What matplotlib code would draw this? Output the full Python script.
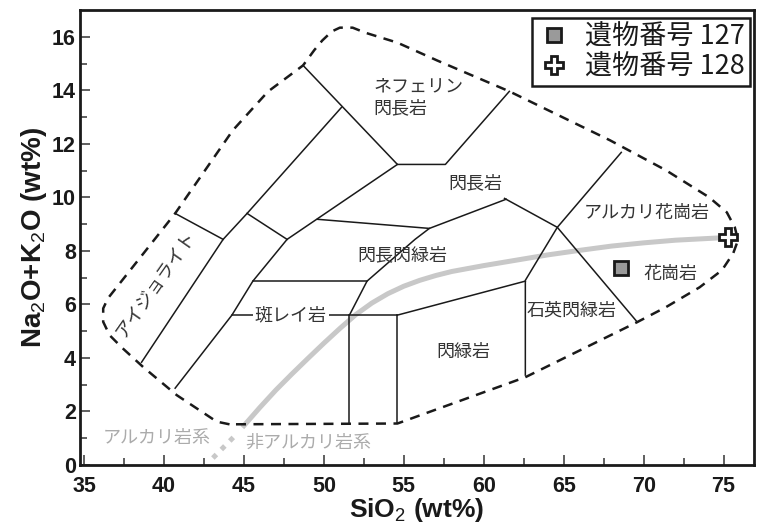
import matplotlib
matplotlib.use('Agg')
import matplotlib.pyplot as plt
from matplotlib.lines import Line2D

# ── fonts ──────────────────────────────────────────────────────────────────
AX_FONT = 'Liberation Sans'
JP = ['Noto Sans CJK JP', 'DejaVu Sans']
plt.rcParams['mathtext.fontset'] = 'custom'
plt.rcParams['mathtext.rm'] = AX_FONT
plt.rcParams['mathtext.bf'] = AX_FONT + ':bold'

INK = '#1a1a1a'
TXT = '#333333'
CURVE = '#c8c8c8'

# ── data: field boundaries (SiO2, Na2O+K2O) ───────────────────────────────
envelope_x = [44.1, 43.3, 40.8, 38.7, 37.4, 36.6, 36.2, 36.2, 36.5, 40.7, 44.3, 46.5, 48.7,
              49.4, 49.9, 50.5, 51.0, 51.8, 52.6, 54.6, 57.1, 61.6, 67.9, 71.4, 74.1,
              75.2, 75.7, 75.9, 75.6, 74.9, 73.5, 71.4, 69.6, 62.6, 54.6, 44.1]
envelope_y = [1.52, 1.62, 2.61, 3.66, 4.37, 4.85, 5.35, 5.85, 6.23, 9.40, 12.50, 13.95, 14.93,
              15.50, 15.86, 16.20, 16.34, 16.34, 16.15, 15.78, 15.11, 13.96, 12.13, 11.01, 10.00,
              9.44, 8.88, 8.40, 7.91, 7.28, 6.64, 5.90, 5.34, 3.28, 1.55, 1.52]

boundaries = [
    ([38.6, 43.7, 45.2, 51.1], [3.84, 8.43, 9.40, 13.36]),      # ijolite / foid gabbro
    ([40.7, 43.7], [9.40, 8.43]),
    ([45.2, 47.7], [9.40, 8.43]),
    ([40.7, 44.25, 45.56, 47.7, 54.6], [2.87, 5.60, 6.87, 8.43, 11.23]),
    ([48.7, 54.6, 57.6, 61.6], [14.93, 11.23, 11.23, 13.96]),
    ([49.6, 56.6, 61.4], [9.18, 8.84, 9.93]),
    ([61.3, 64.6, 69.6], [9.96, 8.88, 5.34]),
    ([68.6, 64.6, 62.6, 62.6], [11.68, 8.88, 6.90, 3.36]),
    ([54.6, 62.6], [5.60, 6.87]),
    ([54.6, 54.6], [5.60, 1.57]),
    ([51.6, 51.6], [5.60, 1.57]),
    ([44.25, 54.6], [5.60, 5.60]),                               # gabbro line behind label
    ([51.6, 52.7, 55.7, 56.6], [5.60, 6.87, 8.43, 8.84]),
    ([45.56, 52.7], [6.87, 6.87]),
]

# alkaline / subalkaline divide
divide_x = [44.9, 46.0, 47.0, 48.0, 49.0, 50.0, 51.0, 52.0, 53.0, 54.0, 55.0, 56.0,
            57.0, 58.0, 60.0, 62.0, 64.0, 66.0, 68.0, 70.0, 72.0, 75.2]
divide_y = [1.40, 2.15, 2.80, 3.40, 3.98, 4.55, 5.10, 5.62, 6.05, 6.40, 6.68, 6.90,
            7.08, 7.23, 7.45, 7.65, 7.85, 8.02, 8.18, 8.30, 8.40, 8.50]
dotted_x = [43.06, 44.6]
dotted_y = [0.26, 1.19]

# samples
s127 = (68.6, 7.35)
s128 = (75.25, 8.51)
legend_labels = ['遺物番号 127', '遺物番号 128']

field_labels = [
    ('ネフェリン\n閃長岩', 53.1, 13.75, 'left', 0),
    ('閃長岩', 59.5, 10.52, 'center', 0),
    ('閃長閃緑岩', 54.9, 7.84, 'center', 0),
    ('閃緑岩', 58.75, 4.22, 'center', 0),
    ('石英閃緑岩', 65.5, 5.75, 'center', 0),
    ('アルカリ花崗岩', 70.2, 9.40, 'center', 0),
    ('花崗岩', 71.7, 7.13, 'center', 0),
    ('アイジョライト', 39.5, 6.75, 'center', 55),
]

# ── figure ─────────────────────────────────────────────────────────────────
fig = plt.figure(figsize=(7.57, 5.29), dpi=100)
ax = fig.add_axes([80/757, 64/529, 674/757, 455/529])

ax.plot(envelope_x, envelope_y, color=INK, lw=1.8, linestyle=(0, (4, 3)), zorder=3)
for bx, by in boundaries:
    ax.plot(bx, by, color=INK, lw=1.1, zorder=3)

ax.plot(divide_x, divide_y, color=CURVE, lw=3.6, solid_capstyle='butt', zorder=2)
ax.plot(dotted_x, dotted_y, color=CURVE, lw=3.6, linestyle=(0, (1, 1.4)), zorder=2)

for txt, x, y, ha, rot in field_labels:
    ax.text(x, y, txt, ha=ha, va='center', rotation=rot, fontsize=13,
            color=TXT, family=JP, linespacing=1.25, zorder=4)
ax.text(47.94, 5.60, '斑レイ岩', ha='center', va='center', fontsize=13, color=TXT,
        family=JP, zorder=4, bbox=dict(facecolor='white', edgecolor='none', pad=1.5))
ax.text(39.55, 1.0, 'アルカリ岩系', ha='center', va='center', fontsize=13,
        color='#ababab', family=JP, zorder=4)
ax.text(49.0, 0.82, '非アルカリ岩系', ha='center', va='center', fontsize=13,
        color='#ababab', family=JP, zorder=4)

ax.plot(*s127, marker='s', ms=9.5, mfc='#9a9a9a', mec=INK, mew=2, zorder=5)
ax.plot(*s128, marker='P', ms=13, mfc='white', mec=INK, mew=2, zorder=5)

# legend
handles = [Line2D([], [], ls='none', marker='s', ms=9.5, mfc='#9a9a9a', mec=INK, mew=2),
           Line2D([], [], ls='none', marker='P', ms=13, mfc='white', mec=INK, mew=2)]
leg = ax.legend(handles, legend_labels, loc='upper right',
                bbox_to_anchor=(0.994, 0.982), prop={'family': JP, 'size': 19.5},
                frameon=True, fancybox=False, framealpha=1, edgecolor=INK,
                handletextpad=0.55, handlelength=1.2, borderpad=0.2, labelspacing=0.12,
                borderaxespad=0)
leg.get_frame().set_linewidth(1.8)
for t in leg.get_texts():
    t.set_color(INK)

# axes styling
ax.set_xlim(34.75, 76.9)
ax.set_ylim(0, 17)
ax.set_xticks(range(35, 80, 5))
ax.set_xticks([37.5 + 5 * i for i in range(8)], minor=True)
ax.set_yticks(range(0, 18, 2))
ax.set_yticks(range(1, 17, 2), minor=True)
ax.tick_params(which='major', direction='in', length=7, width=1.2, color='#444',
               labelsize=15.5, pad=3)
ax.tick_params(which='minor', direction='in', length=5, width=1.2, color='#444')
ax.tick_params(axis='x', which='major', pad=8)
ax.tick_params(axis='y', which='both', left=True, right=False)
ax.tick_params(axis='x', which='both', bottom=True, top=False)
for lab in ax.get_xticklabels() + ax.get_yticklabels():
    lab.set_fontweight('bold')
    lab.set_family(AX_FONT)
    lab.set_color(INK)
for s in ax.spines.values():
    s.set_linewidth(2.0)
    s.set_color(INK)

ax.set_xlabel(r'SiO$_\mathrm{2}$ (wt%)', fontsize=19, fontweight='bold', family=AX_FONT,
              color=INK, labelpad=-1)
ax.set_ylabel(r'Na$_\mathrm{2}$O+K$_\mathrm{2}$O (wt%)', fontsize=20, fontweight='bold',
              family=AX_FONT, color=INK, labelpad=2)

fig.savefig('out.png', dpi=100, facecolor='white')
